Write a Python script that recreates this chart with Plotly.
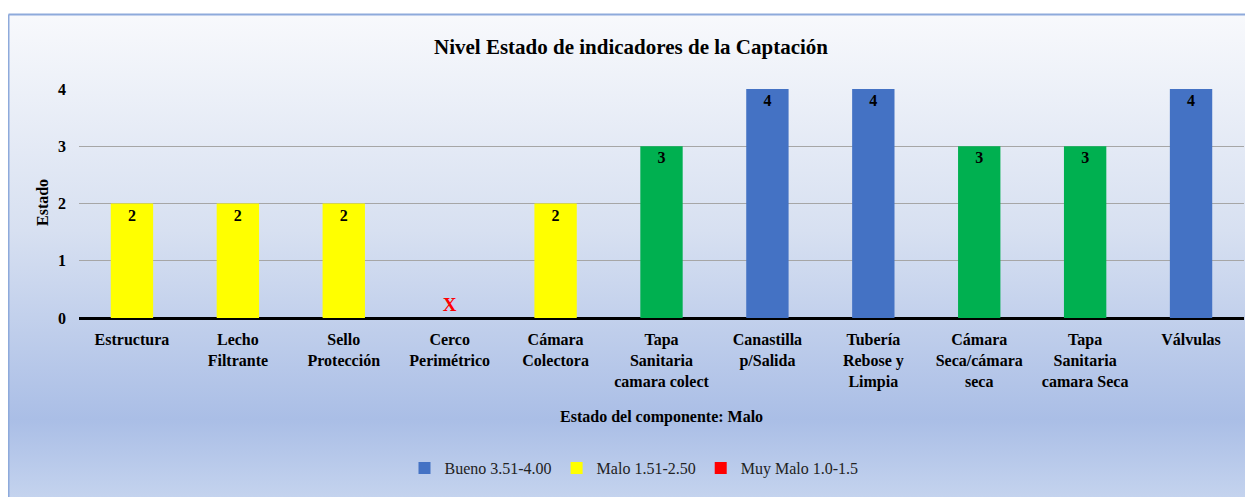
import base64
import plotly.graph_objects as go

# ---------------- data ----------------
categories = [
    "Estructura", "Lecho<br>Filtrante", "Sello<br>Protección", "Cerco<br>Perimétrico",
    "Cámara<br>Colectora", "Tapa<br>Sanitaria<br>camara colect", "Canastilla<br>p/Salida",
    "Tubería<br>Rebose y<br>Limpia", "Cámara<br>Seca/cámara<br>seca", "Tapa<br>Sanitaria<br>camara Seca",
    "Válvulas",
]
bueno_vals = [None, None, None, None, None, None, 4, 4, None, None, 4]
malo_vals = [2, 2, 2, None, 2, None, None, None, None, None, None]
regular_vals = [None, None, None, None, None, 3, None, None, 3, 3, None]
muy_malo_vals = [None, None, None, 0, None, None, None, None, None, None, None]
muy_malo_text = ["", "", "", "X", "", "", "", "", "", "", ""]

title_text = "Nivel Estado de indicadores de la Captación"
y_title = "Estado"
x_title = "Estado del componente: Malo"
y_ticks = [0, 1, 2, 3, 4]

# ---------------- layout geometry ----------------
# page body has an 8px default margin, so the figure is drawn at (8, 8)
OX, OY = 8, 8
W, H = 1253 - OX, 497 - OY
L, R, T, B = 79 - OX, 9, 89 - OY, 497 - 318
PW, PH = W - L - R, H - T - B


def px_x(px):
    return (px - OX - L) / PW


def px_y(py):
    return 1 - (py - OY - T) / PH


FONT = "Liberation Serif"

svg = """<svg xmlns='http://www.w3.org/2000/svg' width='100' height='100' preserveAspectRatio='none'>
<defs><linearGradient id='g' x1='0' y1='0' x2='0' y2='1'>
<stop offset='0' stop-color='#f8f9fc'/>
<stop offset='0.45' stop-color='#d7e0f1'/>
<stop offset='0.84' stop-color='#aabee6'/>
<stop offset='1' stop-color='#c4d3ee'/>
</linearGradient></defs>
<rect width='100' height='100' fill='url(#g)'/></svg>"""
svg_uri = "data:image/svg+xml;base64," + base64.b64encode(svg.encode()).decode()

fig = go.Figure()

text_font = dict(family=FONT, size=16, color="black", weight="bold")


def lbl(vals):
    return [("" if v is None else str(v)) for v in vals]


fig.add_trace(go.Bar(
    x=categories, y=bueno_vals, name="Bueno 3.51-4.00", marker=dict(color="#4472c4", line_width=0),
    text=lbl(bueno_vals), textposition="inside", insidetextanchor="end", textfont=text_font,
))
fig.add_trace(go.Bar(
    x=categories, y=malo_vals, name="Malo 1.51-2.50", marker=dict(color="#ffff00", line_width=0),
    text=lbl(malo_vals), textposition="inside", insidetextanchor="end", textfont=text_font,
))
fig.add_trace(go.Bar(
    x=categories, y=muy_malo_vals, name="Muy Malo 1.0-1.5", marker=dict(color="#ff0000", line_width=0),
    text=muy_malo_text, textposition="outside", cliponaxis=False,
    textfont=dict(family=FONT, size=19, color="#ff0000", weight="bold"),
))
fig.add_trace(go.Bar(
    x=categories, y=regular_vals, name="Regular", marker=dict(color="#00b050", line_width=0),
    showlegend=False,
    text=lbl(regular_vals), textposition="inside", insidetextanchor="end", textfont=text_font,
))

fig.update_layout(
    width=W, height=H,
    margin=dict(l=L, r=R, t=T, b=B),
    paper_bgcolor="white",
    plot_bgcolor="rgba(0,0,0,0)",
    barmode="overlay",
    bargap=0.6,
    font=dict(family=FONT, color="black"),
    showlegend=True,
    legend=dict(
        orientation="h", x=px_x(634), xanchor="center", y=px_y(468), yanchor="middle",
        font=dict(family=FONT, size=16, color="#222222"), bgcolor="rgba(0,0,0,0)",
        traceorder="normal", itemwidth=30,
    ),
    xaxis=dict(
        tickfont=dict(family=FONT, size=16, color="black", weight="bold"), showgrid=False,
        showline=True, linecolor="black", linewidth=2, ticks="", ticklabelstandoff=6,
    ),
    yaxis=dict(
        range=[0, 4], tickvals=y_ticks,
        tickfont=dict(family=FONT, size=16, color="black", weight="bold"),
        showgrid=True, gridcolor="#a6a6a6", gridwidth=1, zeroline=True,
        zerolinecolor="black", zerolinewidth=2, showline=False, ticks="", ticklabelstandoff=12,
    ),
    images=[dict(
        source=svg_uri, xref="paper", yref="paper",
        x=px_x(8), y=px_y(14), sizex=px_x(1253) - px_x(8), sizey=px_y(14) - px_y(497),
        xanchor="left", yanchor="top", sizing="stretch", layer="below",
    )],
    shapes=[
        dict(type="line", xref="paper", yref="paper", x0=px_x(8.5), x1=px_x(1253), y0=px_y(14.5), y1=px_y(14.5),
             line=dict(color="#8eaadb", width=2)),
        dict(type="line", xref="paper", yref="paper", x0=px_x(8.5), x1=px_x(8.5), y0=px_y(14.5), y1=px_y(497),
             line=dict(color="#8eaadb", width=2)),
    ],
    annotations=[
        dict(text=title_text, xref="paper", yref="paper", x=px_x(631), y=px_y(47),
             xanchor="center", yanchor="middle", showarrow=False,
             font=dict(family=FONT, size=21, color="black", weight="bold")),
        dict(text=y_title, xref="paper", yref="paper", x=px_x(42), y=px_y(203),
             xanchor="center", yanchor="middle", showarrow=False, textangle=-90,
             font=dict(family=FONT, size=16, color="black", weight="bold")),
        dict(text=x_title, xref="paper", yref="paper", x=px_x(661), y=px_y(417),
             xanchor="center", yanchor="middle", showarrow=False,
             font=dict(family=FONT, size=16, color="black", weight="bold")),
    ],
)

fig.write_html("out.html")
